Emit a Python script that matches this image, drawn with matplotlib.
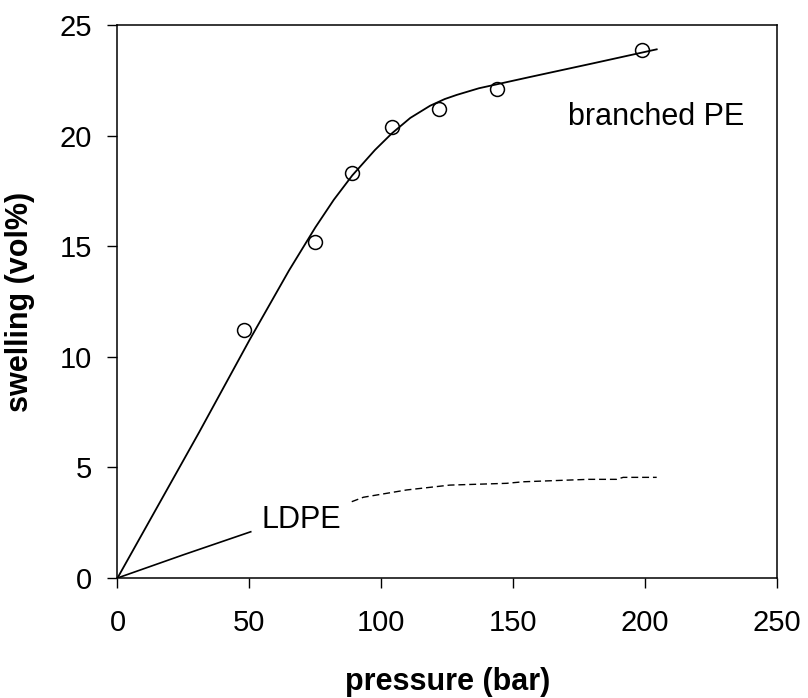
import matplotlib
matplotlib.use("Agg")
import matplotlib.pyplot as plt

# measured data (branched PE)
meas_p = [48, 75, 89, 104, 122, 144, 199]
meas_s = [11.2, 15.2, 18.3, 20.4, 21.2, 22.1, 23.85]

# fitted curve (branched PE)
fit_p = [0, 31, 50, 65, 75, 82, 89, 97.6, 104, 111, 118.5, 124, 128.6, 137, 156, 180, 204.4]
fit_s = [0, 6.6, 10.75, 13.9, 15.85, 17.1, 18.2, 19.35, 20.1, 20.8, 21.35, 21.65, 21.84, 22.14, 22.64, 23.26, 23.9]

# LDPE solid segment
ldpe_p = [0, 25, 50.5]
ldpe_s = [0, 1.05, 2.09]

# LDPE dashed segment
ldpe_d_p = [88.8, 93.2, 109.6, 126, 147.5, 153.8, 178.5, 189.2, 191.7, 204.4]
ldpe_d_s = [3.45, 3.65, 3.98, 4.2, 4.28, 4.35, 4.46, 4.46, 4.55, 4.55]

x_ticks = [0, 50, 100, 150, 200, 250]
y_ticks = [0, 5, 10, 15, 20, 25]

plt.rcParams['font.family'] = ['Liberation Sans', 'DejaVu Sans']

fig = plt.figure(figsize=(8.08, 6.98), dpi=100)
ax = fig.add_axes([117.5/808, 1-578/698, (777-117.5)/808, (578-25)/698])

ax.plot(fit_p, fit_s, color='black', lw=1.3)
ax.plot(meas_p, meas_s, linestyle='none', marker='o', markersize=10,
        markerfacecolor='none', markeredgecolor='black', markeredgewidth=1.1)
ax.plot(ldpe_p, ldpe_s, color='black', lw=1.2)
ax.plot(ldpe_d_p, ldpe_d_s, color='black', lw=1.0, dashes=(5, 2.8))

ax.text(170.8, 20.5, 'branched PE', fontsize=22, ha='left', va='baseline')
ax.text(54.7, 2.25, 'LDPE', fontsize=22, ha='left', va='baseline')

ax.set_xlim(0, 250)
ax.set_ylim(0, 25)
ax.set_xticks(x_ticks)
ax.set_yticks(y_ticks)
ax.tick_params(direction='out', length=7.2, width=1, labelsize=21, colors='black')
ax.tick_params(axis='x', pad=15)
ax.tick_params(axis='y', pad=11)
for s in ax.spines.values():
    s.set_linewidth(1.1)

ax.set_xlabel('pressure (bar)', fontsize=22, fontweight='bold', labelpad=22)
ax.set_ylabel('swelling (vol%)', fontsize=22, fontweight='bold', labelpad=18)

fig.savefig('out.png', dpi=100)
